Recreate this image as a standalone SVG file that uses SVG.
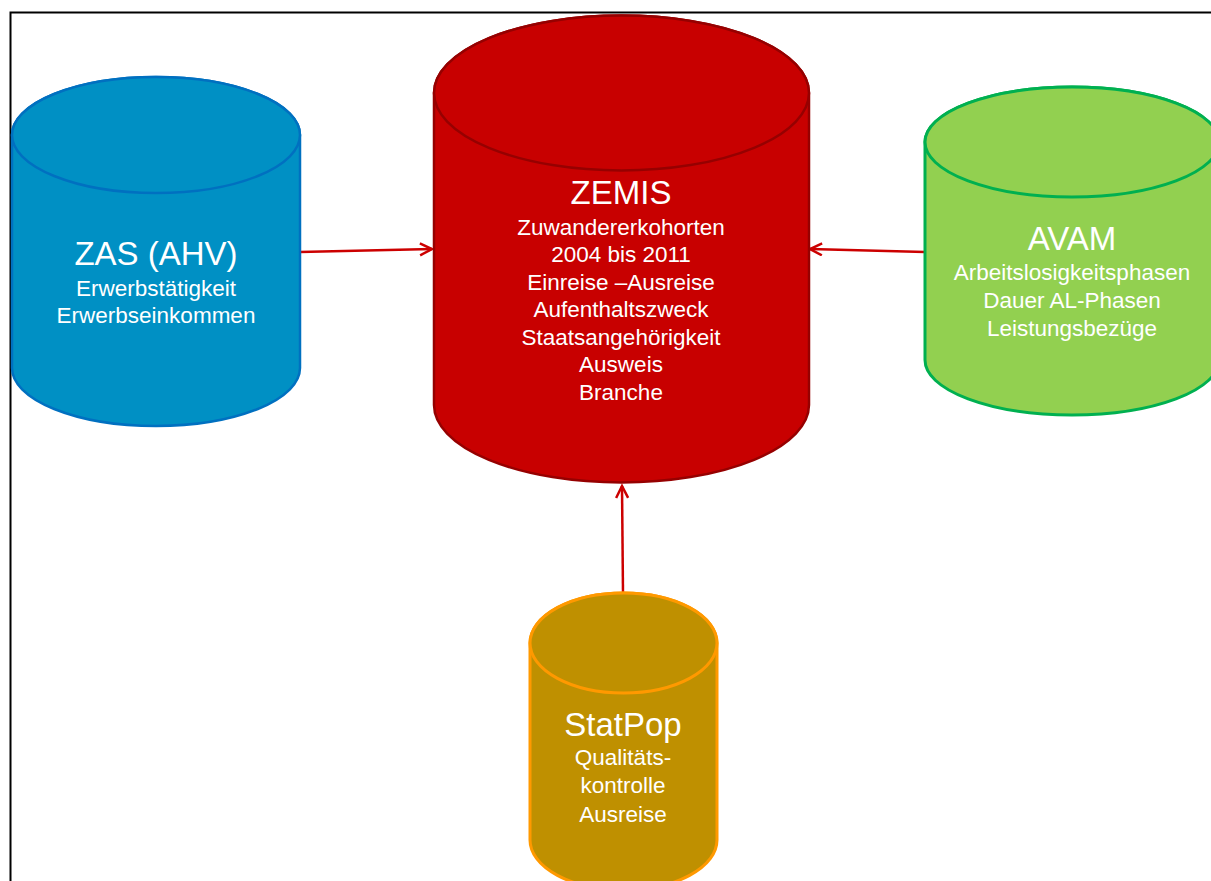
<svg xmlns="http://www.w3.org/2000/svg" width="1211" height="881" viewBox="0 0 1211 881">
<style>
text{font-family:"Liberation Sans",Arial,sans-serif;fill:#fff;text-anchor:middle}
.t{font-size:33px}
.s{font-size:22.5px}
.con{stroke:#CC0000;stroke-width:2.5;fill:none}
</style>
<defs>
<marker id="ah" markerWidth="16" markerHeight="16" refX="13" refY="7" orient="auto" markerUnits="userSpaceOnUse">
<path d="M1,1 L13,7 L1,13" fill="none" stroke="#CC0000" stroke-width="2.5"/>
</marker>
</defs>
<rect x="10.5" y="12.5" width="1220" height="890" fill="#fff" stroke="#000" stroke-width="2"/>
<g id="connectors">
<path class="con" d="M300,252 L432,249" marker-end="url(#ah)"/>
<path class="con" d="M925,252 L810,249" marker-end="url(#ah)"/>
<path class="con" d="M623,593 L622,486" marker-end="url(#ah)"/>
</g>
<g id="zas">
<path d="M12,135 A144,58 0 0 1 300,135 L300,368 A144,58 0 0 1 12,368 Z" fill="#0090C4" stroke="#0070C0" stroke-width="2.5"/>
<ellipse cx="156" cy="135" rx="144" ry="58" fill="#0090C4" stroke="#0070C0" stroke-width="2.5"/>
<text class="t" x="156" y="265">ZAS (AHV)</text>
<text class="s" x="156" y="296">Erwerbstätigkeit</text>
<text class="s" x="156" y="323">Erwerbseinkommen</text>
</g>
<g id="zemis">
<path d="M434,93 A187.5,77.5 0 0 1 809,93 L809,405 A187.5,77.5 0 0 1 434,405 Z" fill="#C80000" stroke="#960000" stroke-width="2.5"/>
<ellipse cx="621.5" cy="93" rx="187.5" ry="77.5" fill="#C80000" stroke="#960000" stroke-width="2.5"/>
<text class="t" x="621" y="204">ZEMIS</text>
<text class="s" x="621" y="235">Zuwandererkohorten</text>
<text class="s" x="621" y="262">2004 bis 2011</text>
<text class="s" x="621" y="290">Einreise –Ausreise</text>
<text class="s" x="621" y="317">Aufenthaltszweck</text>
<text class="s" x="621" y="345">Staatsangehörigkeit</text>
<text class="s" x="621" y="372">Ausweis</text>
<text class="s" x="621" y="400">Branche</text>
</g>
<g id="avam">
<path d="M925,142 A147,55 0 0 1 1219,142 L1219,360 A147,55 0 0 1 925,360 Z" fill="#92D050" stroke="#00B050" stroke-width="3"/>
<ellipse cx="1072" cy="142" rx="147" ry="55" fill="#92D050" stroke="#00B050" stroke-width="3"/>
<text class="t" x="1072" y="250">AVAM</text>
<text class="s" x="1072" y="280">Arbeitslosigkeitsphasen</text>
<text class="s" x="1072" y="308">Dauer AL-Phasen</text>
<text class="s" x="1072" y="336">Leistungsbezüge</text>
</g>
<g id="statpop">
<path d="M530,643 A93.5,50 0 0 1 717,643 L717,840 A93.5,50 0 0 1 530,840 Z" fill="#BF9000" stroke="#FF9900" stroke-width="3"/>
<ellipse cx="623.5" cy="643" rx="93.5" ry="50" fill="#BF9000" stroke="#FF9900" stroke-width="3"/>
<text class="t" x="623" y="736">StatPop</text>
<text class="s" x="623" y="765">Qualitäts-</text>
<text class="s" x="623" y="793">kontrolle</text>
<text class="s" x="623" y="822">Ausreise</text>
</g>
</svg>
